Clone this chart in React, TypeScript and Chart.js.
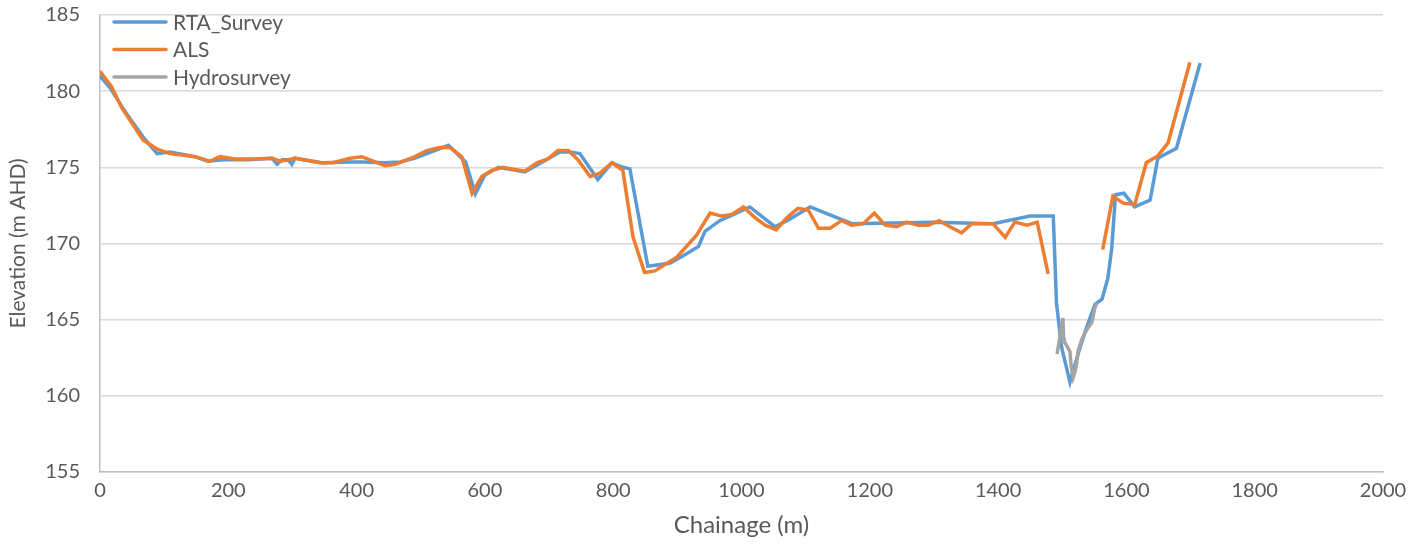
import React, { useEffect, useRef } from "react";
import { Chart, registerables } from "chart.js";

Chart.register(...registerables);

const seriesNames = ["RTA_Survey", "ALS", "Hydrosurvey"];
const seriesColors = ["#5B9BD5", "#ED7D31", "#A5A5A5"];

const rtaChainage = [0, 16, 34, 50, 67, 89, 109, 148, 168, 190, 230, 268, 276, 284, 293, 299, 304, 346, 390, 408, 444, 468, 491, 543, 570, 585, 600, 621, 662, 696, 717, 732, 748, 776, 798, 815, 826, 854, 888, 909, 933, 943, 966, 987, 1013, 1052, 1071, 1107, 1172, 1300, 1392, 1450, 1486, 1491, 1499, 1512, 1525, 1538, 1551, 1562, 1571, 1577, 1583, 1596, 1613, 1637, 1649, 1678, 1715];
const rtaElevation = [181.0, 180.2, 179.0, 178.0, 177.0, 175.9, 176.0, 175.7, 175.4, 175.5, 175.5, 175.6, 175.2, 175.5, 175.5, 175.2, 175.6, 175.3, 175.35, 175.35, 175.3, 175.35, 175.6, 176.45, 175.35, 173.25, 174.5, 175.0, 174.7, 175.5, 176.0, 176.0, 175.9, 174.2, 175.3, 175.0, 174.9, 168.5, 168.7, 169.2, 169.8, 170.8, 171.5, 171.9, 172.4, 171.1, 171.5, 172.4, 171.3, 171.4, 171.3, 171.8, 171.8, 166.1, 163.2, 160.9, 162.8, 164.5, 166.0, 166.35, 167.7, 169.6, 173.2, 173.3, 172.4, 172.85, 175.6, 176.25, 181.85];

const alsChainage = [0, 18, 34, 50, 67, 89, 109, 148, 171, 187, 210, 242, 268, 281, 293, 304, 343, 363, 390, 408, 426, 444, 460, 491, 509, 530, 546, 564, 580, 595, 611, 628, 662, 681, 698, 714, 730, 745, 764, 779, 798, 815, 831, 849, 865, 899, 930, 951, 969, 985, 1003, 1021, 1037, 1054, 1071, 1088, 1104, 1120, 1138, 1156, 1172, 1190, 1207, 1224, 1242, 1257, 1276, 1291, 1308, 1325, 1343, 1359, 1376, 1392, 1411, 1426, 1445, 1461, 1478, 1520, 1563, 1579, 1595, 1613, 1631, 1649, 1665, 1699];
const alsElevation = [181.3, 180.3, 178.9, 177.9, 176.8, 176.2, 175.9, 175.7, 175.4, 175.7, 175.55, 175.55, 175.6, 175.4, 175.5, 175.6, 175.3, 175.3, 175.6, 175.7, 175.4, 175.1, 175.2, 175.7, 176.1, 176.3, 176.3, 175.7, 173.3, 174.4, 174.8, 175.0, 174.75, 175.3, 175.55, 176.1, 176.1, 175.5, 174.4, 174.6, 175.3, 174.8, 170.4, 168.1, 168.2, 169.1, 170.55, 172.0, 171.8, 171.9, 172.4, 171.7, 171.2, 170.9, 171.7, 172.3, 172.2, 171.0, 171.0, 171.5, 171.2, 171.3, 172.0, 171.2, 171.1, 171.4, 171.2, 171.2, 171.5, 171.1, 170.7, 171.3, 171.3, 171.3, 170.4, 171.4, 171.2, 171.4, 168.0, null, 169.6, 173.1, 172.65, 172.55, 175.3, 175.75, 176.6, 181.9];

const hydroChainage = [1492, 1501, 1502, 1504, 1507, 1512, 1514, 1517, 1520, 1522, 1525, 1530, 1535, 1540, 1546, 1551, 1554];
const hydroElevation = [162.75, 165.1, 163.9, 163.5, 163.3, 162.9, 161.9, 161.2, 161.6, 162.0, 163.0, 163.65, 164.1, 164.45, 164.8, 165.8, 166.1];

const xMin = 0;
const xMax = 2000;
const xStep = 200;
const yMin = 155;
const yMax = 185;
const yStep = 5;

const xTitle = "Chainage (m)";
const yTitle = "Elevation (m AHD)";

const FONT = "Lato, 'Open Sans', sans-serif";
const TEXT_COLOR = "#595959";

function toPoints(xs: number[], ys: (number | null)[]) {
  return xs.map((x, i) => ({ x, y: ys[i] }));
}

const legendPlugin = {
  id: "customLegend",
  afterDraw(chart: any) {
    const ctx = chart.ctx;
    const left = chart.chartArea.left;
    const top = chart.chartArea.top;
    ctx.save();
    ctx.font = `21px ${FONT}`;
    ctx.textBaseline = "middle";
    ctx.lineCap = "round";
    seriesNames.forEach((name, i) => {
      const y = top + 7 + i * 27.5;
      ctx.strokeStyle = seriesColors[i];
      ctx.lineWidth = 3.5;
      ctx.beginPath();
      ctx.moveTo(left + 14, y);
      ctx.lineTo(left + 66, y);
      ctx.stroke();
      ctx.fillStyle = TEXT_COLOR;
      ctx.fillText(name, left + 73, y + 1);
    });
    ctx.restore();
  },
};

export default function App() {
  const canvasRef = useRef<HTMLCanvasElement | null>(null);

  useEffect(() => {
    const canvas = canvasRef.current;
    if (!canvas) return;
    const chart = new Chart(canvas, {
      type: "line",
      data: {
        datasets: [
          {
            label: seriesNames[0],
            data: toPoints(rtaChainage, rtaElevation),
            borderColor: seriesColors[0],
            backgroundColor: seriesColors[0],
            borderWidth: 3.5,
            pointRadius: 0,
            tension: 0,
            order: 3,
          },
          {
            label: seriesNames[1],
            data: toPoints(alsChainage, alsElevation),
            borderColor: seriesColors[1],
            backgroundColor: seriesColors[1],
            borderWidth: 3.5,
            pointRadius: 0,
            tension: 0,
            spanGaps: false,
            order: 2,
          },
          {
            label: seriesNames[2],
            data: toPoints(hydroChainage, hydroElevation),
            borderColor: seriesColors[2],
            backgroundColor: seriesColors[2],
            borderWidth: 3.5,
            pointRadius: 0,
            tension: 0,
            order: 1,
          },
        ],
      },
      options: {
        animation: false,
        responsive: false,
        maintainAspectRatio: false,
        layout: { padding: { top: 15, right: 42, left: 0, bottom: 0 } },
        plugins: {
          legend: { display: false },
          tooltip: { enabled: false },
          title: { display: false },
        },
        scales: {
          x: {
            type: "linear",
            min: xMin,
            max: xMax,
            ticks: {
              stepSize: xStep,
              color: TEXT_COLOR,
              font: { family: FONT, size: 20 },
              padding: 7,
              maxRotation: 0,
              callback: (v: any) => String(v),
            },
            grid: { display: false, drawTicks: false },
            border: { display: true, color: "#BFBFBF", width: 1.5 },
            title: {
              display: true,
              text: xTitle,
              color: TEXT_COLOR,
              font: { family: FONT, size: 24 },
              padding: { top: 0, bottom: 8 },
            },
            afterFit: (scale: any) => {
              scale.height = 76;
              scale.paddingLeft = 0;
              scale.paddingRight = 0;
            },
          },
          y: {
            type: "linear",
            min: yMin,
            max: yMax,
            ticks: {
              stepSize: yStep,
              color: TEXT_COLOR,
              font: { family: FONT, size: 20 },
              padding: 20,
            },
            grid: { color: "#D9D9D9", lineWidth: 1.5, drawTicks: false },
            border: { display: true, color: "#BFBFBF", width: 1.5 },
            title: {
              display: true,
              text: yTitle,
              color: TEXT_COLOR,
              font: { family: FONT, size: 21 },
              padding: { top: 6, bottom: 0 },
            },
            afterFit: (scale: any) => {
              scale.width = 100;
              scale.paddingTop = 0;
              scale.paddingBottom = 0;
            },
          },
        },
      },
      plugins: [legendPlugin],
    } as any);
    return () => chart.destroy();
  }, []);

  return (
    <div style={{ position: "fixed", left: 0, top: 0, width: 1425, height: 548, background: "#fff" }}>
      <canvas ref={canvasRef} width={1425} height={548} style={{ width: 1425, height: 548, display: "block" }} />
    </div>
  );
}
